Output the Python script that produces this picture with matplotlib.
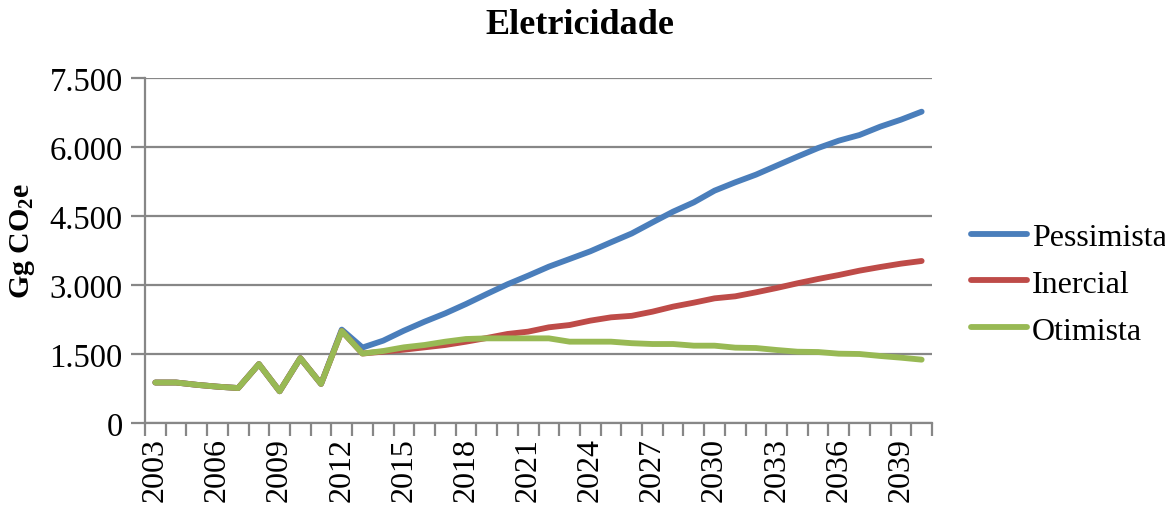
import matplotlib
matplotlib.use('Agg')
import matplotlib.pyplot as plt
import numpy as np

plt.rcParams['font.family'] = ['Liberation Serif', 'DejaVu Serif']
plt.rcParams['mathtext.fontset'] = 'custom'
plt.rcParams['mathtext.rm'] = 'Liberation Serif'
plt.rcParams['mathtext.bf'] = 'Liberation Serif:bold'
plt.rcParams['mathtext.default'] = 'bf'

# data (Gg CO2e)
years = list(range(2003, 2041))
pessimista = [880, 880, 830, 790, 760, 1280, 690, 1410, 850, 2030, 1640,
              1790, 2007, 2203, 2384, 2587, 2804, 3015, 3203, 3399, 3565,
              3732, 3928, 4120, 4360, 4595, 4797, 5051, 5232, 5399, 5595,
              5790, 5978, 6138, 6261, 6442, 6594, 6768]
inercial = [880, 880, 830, 790, 760, 1280, 690, 1410, 850, 2000, 1510,
            1551, 1594, 1645, 1696, 1768, 1848, 1935, 1986, 2080, 2130,
            2225, 2297, 2330, 2420, 2530, 2616, 2710, 2754, 2841, 2935,
            3037, 3131, 3217, 3312, 3391, 3464, 3522]
otimista = [880, 880, 830, 790, 760, 1280, 690, 1410, 850, 2000, 1510,
            1565, 1645, 1696, 1768, 1826, 1840, 1840, 1840, 1840, 1768,
            1768, 1768, 1735, 1717, 1717, 1681, 1681, 1638, 1630, 1587,
            1550, 1543, 1507, 1500, 1457, 1420, 1377]
series = [('Pessimista', pessimista, '#4A7EBB'),
          ('Inercial', inercial, '#BE4B48'),
          ('Otimista', otimista, '#98B954')]
yticks = [0, 1500, 3000, 4500, 6000, 7500]
ytick_labels = ['0', '1.500', '3.000', '4.500', '6.000', '7.500']

fig = plt.figure(figsize=(11.65, 5.06), dpi=100)
ax = fig.add_axes([145 / 1165, 1 - 424 / 506, 787 / 1165, 345 / 506])

x = np.arange(len(years))
for name, vals, col in series:
    ax.plot(x, vals, color=col, lw=4.2, label=name, solid_joinstyle='round',
            solid_capstyle='round')

ax.set_xlim(-0.5, len(years) - 0.5)
ax.set_ylim(0, 7500)
ax.set_yticks(yticks)
ax.set_yticklabels(ytick_labels)
ax.yaxis.grid(True, color='#878787', lw=1.6)
ax.set_axisbelow(True)

ax.set_xticks(x[::3])
ax.set_xticklabels([str(y) for y in years[::3]], rotation=90)
ax.set_xticks(np.arange(-0.5, len(years), 1), minor=True)
ax.tick_params(axis='x', which='major', length=0, pad=10, labelsize=23)
ax.tick_params(axis='x', which='minor', length=9, width=1.6, color='#878787')
ax.tick_params(axis='y', length=10, width=1.6, color='#878787', labelsize=23.5, pad=6)

for s in ['top', 'right']:
    ax.spines[s].set_visible(False)
for s in ['left', 'bottom']:
    ax.spines[s].set_color('#878787')
    ax.spines[s].set_linewidth(1.6)

ax.set_ylabel('Gg CO$_2$e', fontsize=21.5, fontweight='bold')
ax.yaxis.set_label_coords(-0.137, 0.53)
fig.text(0.498, 0.95, 'Eletricidade', ha='center', va='center',
         fontsize=26, fontweight='bold')

leg = ax.legend(loc='center left', bbox_to_anchor=(1.013, 0.403), frameon=False,
                fontsize=23, handlelength=1.75, handletextpad=0.15,
                labelspacing=0.55)
for h in leg.get_lines():
    h.set_linewidth(4.2)

fig.savefig('out.png', dpi=100)
